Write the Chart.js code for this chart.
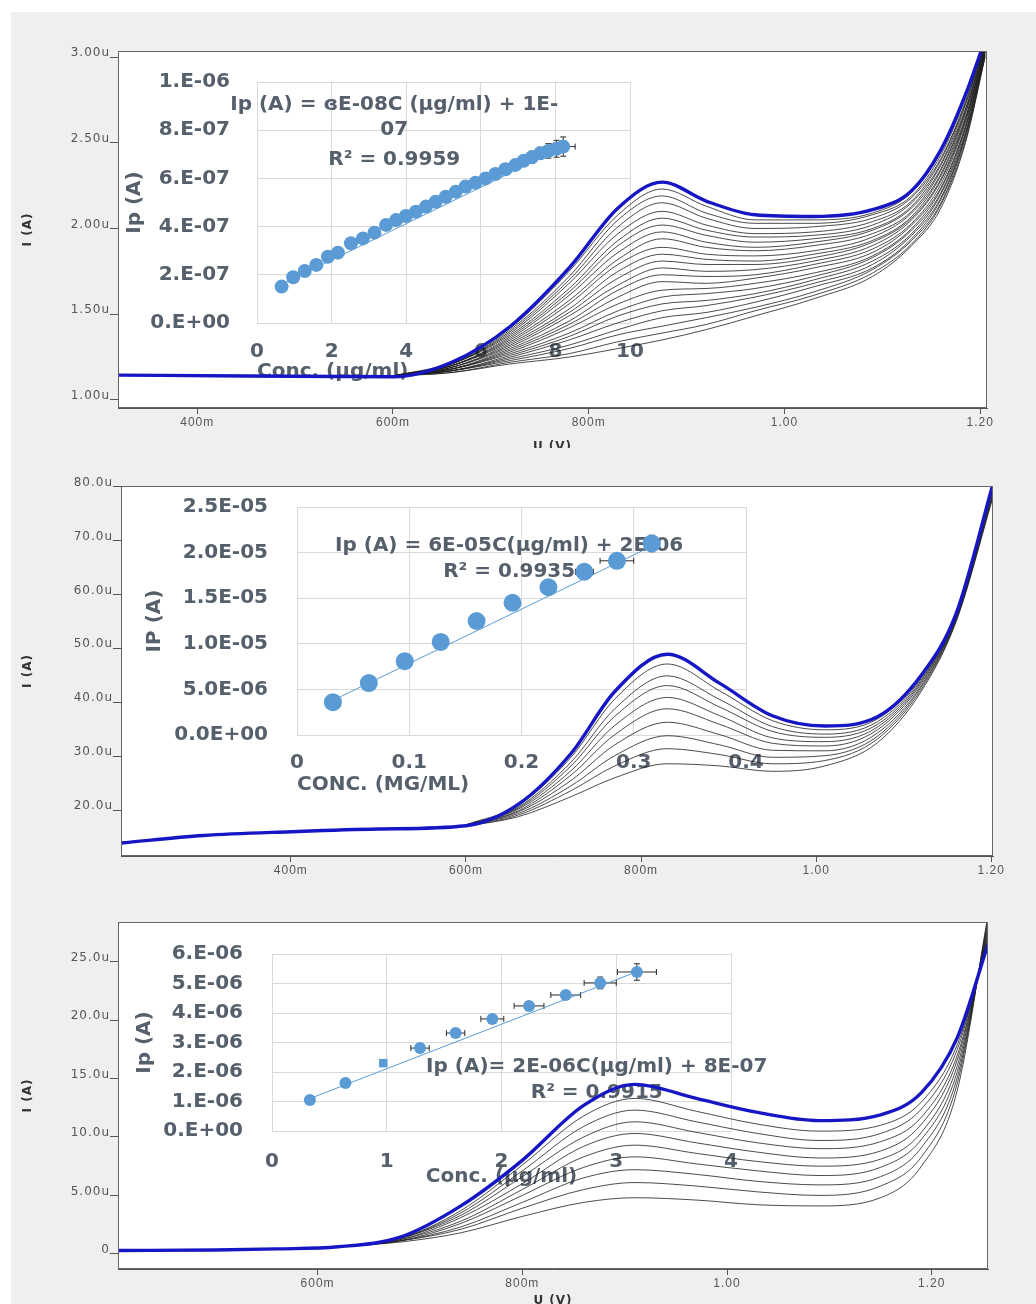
<!DOCTYPE html>
<html><head><meta charset="utf-8">
<script src="https://cdn.jsdelivr.net/npm/chart.js@4.4.1/dist/chart.umd.min.js"></script>
<style>
html,body{margin:0;padding:0;background:#fff;}
#page{position:relative;width:1036px;height:1304px;overflow:hidden;}
.panel{position:absolute;left:0;width:1036px;background:#efefef;overflow:hidden;}
.panel canvas{position:absolute;left:0;top:0;}
.plotbg{position:absolute;background:#fff;}
#strip{position:absolute;left:0;top:0;width:11px;height:1304px;background:#fff;z-index:5;}
</style></head><body>
<div id="page">
  <div class="panel" style="top:12px;height:436px"><div class="plotbg" id="bg1"></div><canvas id="ins1"></canvas><canvas id="main1"></canvas></div>
  <div class="panel" style="top:448px;height:442px"><div class="plotbg" id="bg2"></div><canvas id="ins2"></canvas><canvas id="main2"></canvas></div>
  <div class="panel" style="top:890px;height:414px"><div class="plotbg" id="bg3"></div><canvas id="ins3"></canvas><canvas id="main3"></canvas></div>
  <div id="strip"></div>
</div>
<script>
/* ═══ DATA: voltammograms (U in V, I in µA) ═══ */
// panel 1
const p1Volts=[0.60,0.66,0.72,0.78,0.83,0.875,0.92,0.97,1.03,1.09,1.13,1.16,1.185,1.205];
const p1Curves=[
  [1.14,1.16,1.21,1.25,1.30,1.35,1.41,1.49,1.59,1.72,1.90,2.12,2.50,3.00],
  [1.14,1.16,1.22,1.27,1.34,1.39,1.44,1.52,1.61,1.74,1.91,2.14,2.51,3.00],
  [1.14,1.17,1.23,1.30,1.38,1.43,1.48,1.54,1.63,1.76,1.93,2.15,2.53,3.01],
  [1.14,1.17,1.24,1.32,1.41,1.48,1.51,1.57,1.66,1.77,1.94,2.17,2.54,3.01],
  [1.14,1.17,1.25,1.35,1.45,1.52,1.55,1.60,1.68,1.79,1.96,2.18,2.55,3.02],
  [1.14,1.17,1.26,1.37,1.49,1.56,1.58,1.62,1.70,1.81,1.97,2.20,2.56,3.02],
  [1.14,1.18,1.27,1.39,1.52,1.60,1.62,1.65,1.72,1.83,1.99,2.21,2.58,3.03],
  [1.14,1.18,1.28,1.42,1.56,1.64,1.65,1.68,1.74,1.84,2.00,2.23,2.59,3.03],
  [1.14,1.18,1.29,1.44,1.60,1.69,1.68,1.71,1.77,1.86,2.02,2.24,2.60,3.04],
  [1.14,1.18,1.30,1.46,1.64,1.73,1.72,1.73,1.79,1.88,2.03,2.26,2.62,3.04],
  [1.14,1.19,1.31,1.49,1.67,1.77,1.75,1.76,1.81,1.90,2.05,2.28,2.63,3.05],
  [1.14,1.19,1.32,1.51,1.71,1.81,1.79,1.79,1.83,1.92,2.06,2.29,2.64,3.05],
  [1.14,1.19,1.33,1.53,1.75,1.85,1.82,1.81,1.85,1.93,2.07,2.31,2.65,3.05],
  [1.14,1.20,1.34,1.56,1.79,1.89,1.85,1.84,1.87,1.95,2.09,2.32,2.67,3.06],
  [1.14,1.20,1.35,1.58,1.82,1.94,1.89,1.87,1.90,1.97,2.10,2.34,2.68,3.06],
  [1.14,1.20,1.36,1.61,1.86,1.98,1.92,1.89,1.92,1.99,2.12,2.35,2.69,3.07],
  [1.14,1.20,1.37,1.63,1.90,2.02,1.96,1.92,1.94,2.00,2.13,2.37,2.70,3.07],
  [1.14,1.21,1.38,1.65,1.93,2.06,1.99,1.95,1.96,2.02,2.15,2.38,2.72,3.08],
  [1.14,1.21,1.39,1.68,1.97,2.10,2.02,1.97,1.98,2.04,2.16,2.40,2.73,3.08],
  [1.14,1.21,1.40,1.70,2.01,2.15,2.06,2.00,2.01,2.06,2.18,2.41,2.74,3.09],
  [1.14,1.21,1.41,1.72,2.05,2.19,2.09,2.03,2.03,2.08,2.19,2.43,2.76,3.09],
  [1.14,1.22,1.42,1.75,2.08,2.23,2.13,2.05,2.05,2.09,2.21,2.45,2.77,3.10]
];
const p1BlueVolts=[0.32,0.45,0.60,0.66,0.72,0.78,0.83,0.875,0.92,0.97,1.03,1.09,1.13,1.16,1.185,1.205];
const p1Blue=[1.145,1.14,1.135,1.22,1.43,1.77,2.12,2.27,2.16,2.08,2.07,2.11,2.22,2.46,2.78,3.10];
const p1XTicks=[0.4,0.6,0.8,1.0,1.2];
const p1YTicks=[1.0,1.5,2.0,2.5,3.0];

// panel 2
const p2Volts=[0.60,0.66,0.72,0.77,0.83,0.89,0.95,1.01,1.07,1.12,1.16,1.202];
const p2Curves=[
  [17.0,18.8,22.5,26.0,28.6,28.2,27.2,28.2,32.5,42.0,55.0,78.0],
  [17.0,19.1,23.6,28.2,31.4,30.3,28.6,29.2,33.2,42.4,55.2,78.3],
  [17.1,19.4,24.5,30.1,33.8,32.1,29.8,30.1,33.7,42.8,55.4,78.6],
  [17.1,19.7,25.5,32.1,36.3,34.0,31.1,31.0,34.3,43.1,55.6,78.9],
  [17.2,19.9,26.5,34.0,38.8,35.9,32.4,31.9,34.9,43.5,55.8,79.3],
  [17.2,20.2,27.3,35.7,40.9,37.5,33.4,32.7,35.4,43.8,55.9,79.5],
  [17.2,20.4,28.2,37.4,43.1,39.1,34.6,33.5,35.9,44.1,56.1,79.8],
  [17.2,20.6,28.9,38.8,44.9,40.5,35.5,34.1,36.4,44.4,56.2,80.0],
  [17.3,20.9,29.8,40.6,47.1,42.1,36.6,34.9,36.9,44.7,56.4,80.3]
];
const p2BlueVolts=[0.206,0.30,0.40,0.50,0.60,0.66,0.72,0.77,0.83,0.89,0.95,1.01,1.07,1.12,1.16,1.202];
const p2Blue=[13.9,15.3,16.0,16.5,17.1,21.1,30.5,42.0,48.9,43.5,37.5,35.6,37.3,45.0,56.5,80.5];
const p2XTicks=[0.4,0.6,0.8,1.0,1.2];
const p2YTicks=[20,30,40,50,60,70,80];

// panel 3
const p3Volts=[0.62,0.68,0.74,0.80,0.86,0.91,0.97,1.03,1.09,1.15,1.19,1.225,1.255];
const p3Curves=[
  [0.6,1.0,1.8,3.2,4.4,4.8,4.6,4.2,4.1,4.8,7.5,14.0,29.0],
  [0.6,1.1,2.1,3.9,5.5,6.1,5.8,5.3,5.0,5.8,8.3,14.6,28.7],
  [0.6,1.1,2.3,4.4,6.5,7.2,6.8,6.2,5.9,6.6,9.1,15.1,28.4],
  [0.6,1.1,2.6,5.0,7.4,8.3,7.7,7.1,6.7,7.4,9.8,15.6,28.1],
  [0.6,1.2,2.8,5.5,8.3,9.3,8.6,7.9,7.5,8.1,10.4,16.1,27.8],
  [0.6,1.2,3.1,6.0,9.2,10.3,9.5,8.7,8.2,8.8,11.1,16.6,27.6],
  [0.6,1.3,3.3,6.6,10.0,11.3,10.4,9.5,9.0,9.6,11.7,17.0,27.3],
  [0.6,1.3,3.5,7.1,10.9,12.3,11.3,10.3,9.7,10.3,12.4,17.5,27.1],
  [0.6,1.3,3.7,7.6,11.8,13.3,12.2,11.1,10.5,11.0,13.0,17.9,26.8]
];
const p3BlueVolts=[0.405,0.50,0.56,0.62,0.68,0.74,0.80,0.86,0.91,0.97,1.03,1.09,1.15,1.19,1.225,1.255];
const p3Blue=[0.28,0.33,0.42,0.6,1.4,4.1,8.0,12.7,14.5,13.3,12.1,11.4,11.9,13.8,18.5,26.5];
const p3XTicks=[0.6,0.8,1.0,1.2];
const p3YTicks=[0,5,10,15,20,25];

/* ═══ DATA: calibration insets (C, Ip in A) ═══ */
const in1Conc=[0.66,0.97,1.28,1.59,1.90,2.17,2.52,2.84,3.15,3.46,3.73,3.99,4.26,4.53,4.79,5.06,5.33,5.59,5.86,6.13,6.39,6.66,6.93,7.15,7.37,7.59,7.81,8.03,8.21];
const in1Ip=[1.51e-7,1.90e-7,2.16e-7,2.41e-7,2.75e-7,2.92e-7,3.31e-7,3.51e-7,3.75e-7,4.07e-7,4.27e-7,4.44e-7,4.62e-7,4.83e-7,5.03e-7,5.24e-7,5.45e-7,5.66e-7,5.82e-7,6.00e-7,6.18e-7,6.38e-7,6.56e-7,6.73e-7,6.88e-7,7.04e-7,7.14e-7,7.23e-7,7.32e-7];
const in1XErr=[0,0,0,0,0,0,0,0,0,0,0,0,0,0,0,0,0,0,0,0,0.1,0.1,0.1,0.12,0.12,0.15,0.15,0.2,0.32];
const in1YErr=[0,0,0,0,0,0,0,0,0,0,0,1e-8,1e-8,1.2e-8,1.2e-8,1.5e-8,1.5e-8,1.5e-8,1.8e-8,1.8e-8,2e-8,2e-8,2.2e-8,2.2e-8,2.5e-8,2.5e-8,3e-8,3.5e-8,4e-8];
const in1TrendX=[0.66,8.21], in1TrendY=[1.6e-7,7.3e-7];
const in1XTicks=[0,2,4,6,8,10];
const in1YTicks=[0,2e-7,4e-7,6e-7,8e-7,1e-6];

const in2Conc=[0.032,0.064,0.096,0.128,0.160,0.192,0.224,0.256,0.285,0.316];
const in2Ip=[3.6e-6,5.7e-6,8.1e-6,1.02e-5,1.25e-5,1.45e-5,1.62e-5,1.79e-5,1.91e-5,2.10e-5];
const in2XErr=[0,0,0,0,0,0,0,0.008,0.015,0];
const in2YErr=[0,0,0,0,0,0,0,0,0,9e-7];
const in2TrendX=[0.032,0.316], in2TrendY=[3.8e-6,2.07e-5];
const in2XTicks=[0,0.1,0.2,0.3,0.4];
const in2YTicks=[0,5e-6,1e-5,1.5e-5,2e-5,2.5e-5];

const in3Conc=[0.33,0.64,0.97,1.29,1.60,1.92,2.24,2.56,2.86,3.18];
const in3Ip=[1.05e-6,1.63e-6,2.30e-6,2.81e-6,3.32e-6,3.80e-6,4.24e-6,4.61e-6,5.02e-6,5.39e-6];
const in3XErr=[0,0,0,0.08,0.08,0.1,0.13,0.13,0.14,0.17];
const in3YErr=[0,0,0,0,0,0,0,0,2e-7,2.8e-7];
const in3Marker=['circle','circle','rect','circle','circle','circle','circle','circle','circle','circle'];
const in3TrendX=[0.33,3.18], in3TrendY=[1.1e-6,5.4e-6];
const in3XTicks=[0,1,2,3,4];
const in3YTicks=[0,1e-6,2e-6,3e-6,4e-6,5e-6,6e-6];

/* ═══ STYLE ═══ */
const BLUE='#1616c4', LINE='#1e1e1e', PT='#5b9bd5', INS_COL='#56606c', CLEAR='rgba(0,0,0,0)';
const xAxFont={family:'"Liberation Sans", Arial, sans-serif', size:12};
const yAxFont={family:'"DejaVu Sans", sans-serif', size:12};
const insFont={family:'"DejaVu Sans", sans-serif', size:20, weight:'bold'};

function fmtSci(v,d){
  if(Math.abs(v)<1e-15) v=0;
  const [m,e]=v.toExponential(d).split('e');
  return (d===0?m+'.':m)+'E'+(+e<0?'-':'+')+String(Math.abs(+e)).padStart(2,'0');
}
function fmtVolt(v){ return v<0.999 ? Math.round(v*1000)+'m' : v.toFixed(2); }

/* ═══ MAIN VOLTAMMOGRAM ═══ */
function plotBox(bg){
  return {
    id:'plotBox',
    afterLayout(c){
      const a=c.chartArea;
      Object.assign(bg.style,{left:a.left+'px',top:a.top+'px',width:(a.right-a.left)+'px',height:(a.bottom-a.top)+'px'});
    },
    beforeDraw(c){ c.ctx.letterSpacing='1px'; },
    afterDraw(c){
      const a=c.chartArea, ctx=c.ctx;
      ctx.save(); ctx.strokeStyle='#666'; ctx.lineWidth=1;
      ctx.strokeRect(Math.round(a.left)+0.5,Math.round(a.top)+0.5,Math.round(a.right-a.left)-1,Math.round(a.bottom-a.top)-1);
      ctx.restore();
    }
  };
}

function mainChart(id,bgId,o){
  const cv=document.getElementById(id);
  cv.width=1036; cv.height=o.h;
  const a=o.area;
  const ds=o.curves.map(row=>({
    data:row.map((y,i)=>({x:o.volts[i],y})),
    borderColor:LINE, borderWidth:0.8, pointRadius:0, cubicInterpolationMode:'monotone', order:1
  }));
  ds.push({
    data:o.blue.map((y,i)=>({x:o.blueVolts[i],y})),
    borderColor:BLUE, borderWidth:3.4, pointRadius:0, cubicInterpolationMode:'monotone', order:0
  });
  return new Chart(cv,{
    type:'line',
    data:{datasets:ds},
    options:{
      responsive:false, animation:false, events:[],
      layout:{padding:{left:0,top:a.t,right:1036-a.r,bottom:0}},
      plugins:{legend:{display:false},tooltip:{enabled:false}},
      scales:{
        x:{
          type:'linear', min:o.xMin, max:o.xMax,
          afterBuildTicks:s=>{s.ticks=o.xTicks.map(v=>({value:v}));},
          afterFit:s=>{s.height=o.h-a.b;},
          grid:{drawOnChartArea:false,tickLength:6,color:'#555'},
          border:{color:'#555'},
          ticks:{padding:1,color:'#555',font:xAxFont,maxRotation:0,autoSkip:false,callback:fmtVolt},
          title:{display:o.xTitle,text:'U (V)',color:'#333',font:{family:'"DejaVu Sans", sans-serif',size:12,weight:'bold'},padding:{top:0,bottom:o.xtPad}}
        },
        y:{
          min:o.yMin, max:o.yMax,
          afterBuildTicks:s=>{s.ticks=o.yTicks.map(v=>({value:v}));},
          afterFit:s=>{s.width=a.l;},
          grid:{drawOnChartArea:false,tickLength:8,color:'#555'},
          border:{color:'#555'},
          ticks:{padding:0,color:'#555',font:yAxFont,labelOffset:-4,autoSkip:false,callback:o.yFmt},
          title:{display:true,text:'I (A)',color:'#333',font:{family:'"DejaVu Sans", sans-serif',size:12,weight:'bold'},padding:{top:21,bottom:0}}
        }
      }
    },
    plugins:[plotBox(document.getElementById(bgId))]
  });
}

/* ═══ INSET CALIBRATION ═══ */
function insetMarks(o){
  return {
    id:'insetMarks',
    beforeDatasetsDraw(c){
      const ctx=c.ctx, xs=c.scales.x, ys=c.scales.y;
      ctx.save();
      ctx.font='bold 20px "DejaVu Sans", sans-serif';
      ctx.fillStyle=INS_COL; ctx.textAlign='center'; ctx.textBaseline='middle';
      o.notes.forEach(n=>ctx.fillText(n.t,xs.getPixelForValue(n.x),ys.getPixelForValue(n.y)));
      ctx.strokeStyle='#2a2a2a'; ctx.lineWidth=1;
      o.conc.forEach((cx,i)=>{
        const px=xs.getPixelForValue(cx), py=ys.getPixelForValue(o.ip[i]);
        const ex=o.errX[i], ey=o.errY[i];
        ctx.beginPath();
        if(ex){
          const x0=xs.getPixelForValue(cx-ex), x1=xs.getPixelForValue(cx+ex);
          ctx.moveTo(x0,py); ctx.lineTo(x1,py);
          ctx.moveTo(x0,py-3); ctx.lineTo(x0,py+3);
          ctx.moveTo(x1,py-3); ctx.lineTo(x1,py+3);
        }
        if(ey){
          const y0=ys.getPixelForValue(o.ip[i]-ey), y1=ys.getPixelForValue(o.ip[i]+ey);
          ctx.moveTo(px,y0); ctx.lineTo(px,y1);
          ctx.moveTo(px-3,y0); ctx.lineTo(px+3,y0);
          ctx.moveTo(px-3,y1); ctx.lineTo(px+3,y1);
        }
        ctx.stroke();
      });
      ctx.restore();
    }
  };
}

function insetChart(id,o){
  const cv=document.getElementById(id);
  cv.width=o.w; cv.height=o.h;
  cv.style.left=o.left+'px'; cv.style.top=o.top+'px';
  const a=o.area;
  return new Chart(cv,{
    type:'scatter',
    data:{datasets:[
      {data:o.conc.map((x,i)=>({x,y:o.ip[i]})),pointRadius:o.r,pointBackgroundColor:PT,pointBorderWidth:0,pointStyle:o.marker||'circle',showLine:false,order:0},
      {data:o.trendX.map((x,i)=>({x,y:o.trendY[i]})),showLine:true,borderColor:PT,borderWidth:1,pointRadius:0,order:1}
    ]},
    options:{
      responsive:false, animation:false, events:[],
      layout:{padding:{left:0,top:a.t,right:o.w-a.r,bottom:0}},
      plugins:{legend:{display:false},tooltip:{enabled:false}},
      scales:{
        x:{
          type:'linear', min:o.xTicks[0], max:o.xTicks[o.xTicks.length-1],
          afterBuildTicks:s=>{s.ticks=o.xTicks.map(v=>({value:v}));},
          afterFit:s=>{s.height=o.h-a.b;},
          grid:{color:'#d9d9d9',drawTicks:true,tickLength:o.xPad,tickColor:CLEAR},
          border:{color:'#d9d9d9'},
          ticks:{padding:0,color:INS_COL,font:insFont,maxRotation:0,autoSkip:false},
          title:{display:true,text:o.xTitle,align:o.xAlign,color:INS_COL,font:insFont,padding:{top:0,bottom:o.xtPad}}
        },
        y:{
          min:o.yTicks[0], max:o.yTicks[o.yTicks.length-1],
          afterBuildTicks:s=>{s.ticks=o.yTicks.map(v=>({value:v}));},
          afterFit:s=>{s.width=a.l;},
          grid:{color:'#d9d9d9',drawTicks:true,tickLength:o.yPad,tickColor:CLEAR},
          border:{color:'#d9d9d9'},
          ticks:{padding:0,color:INS_COL,font:insFont,autoSkip:false,callback:v=>fmtSci(v,o.dig)},
          title:{display:true,text:o.yTitle,color:INS_COL,font:insFont,padding:{top:3,bottom:0}}
        }
      }
    },
    plugins:[insetMarks(o)]
  });
}

/* ═══ RENDER ═══ */
insetChart('ins1',{
  left:120, top:50, w:560, h:330, area:{l:137,t:20,r:510,b:261},
  conc:in1Conc, ip:in1Ip, errX:in1XErr, errY:in1YErr, trendX:in1TrendX, trendY:in1TrendY,
  xTicks:in1XTicks, yTicks:in1YTicks, dig:0, r:7, xPad:17, yPad:27, xtPad:8,
  xTitle:'Conc. (µg/ml)', xAlign:'start', yTitle:'Ip (A)',
  notes:[{x:3.68,y:9.05e-7,t:'Ip (A) = ɞE-08C (µg/ml) + 1E-'},{x:3.68,y:8.0e-7,t:'07'},{x:3.68,y:6.76e-7,t:'R² = 0.9959'}]
});
mainChart('main1','bg1',{
  h:450, area:{l:118,t:39,r:987,b:396},
  volts:p1Volts, curves:p1Curves, blueVolts:p1BlueVolts, blue:p1Blue,
  xMin:0.319, xMax:1.207, xTicks:p1XTicks, yMin:0.953, yMax:3.035, yTicks:p1YTicks,
  yFmt:v=>v.toFixed(2)+'u', xTitle:true, xtPad:8
});

insetChart('ins2',{
  left:140, top:42, w:640, h:320, area:{l:157,t:17,r:606,b:245},
  conc:in2Conc, ip:in2Ip, errX:in2XErr, errY:in2YErr, trendX:in2TrendX, trendY:in2TrendY,
  xTicks:in2XTicks, yTicks:in2YTicks, dig:1, r:9, xPad:16, yPad:29, xtPad:13,
  xTitle:'CONC. (MG/ML)', xAlign:'start', yTitle:'IP (A)',
  notes:[{x:0.189,y:2.08e-5,t:'Ip (A) = 6E-05C(µg/ml) + 2E-06'},{x:0.189,y:1.79e-5,t:'R² = 0.9935'}]
});
mainChart('main2','bg2',{
  h:442, area:{l:121,t:38,r:993,b:408},
  volts:p2Volts, curves:p2Curves, blueVolts:p2BlueVolts, blue:p2Blue,
  xMin:0.206, xMax:1.202, xTicks:p2XTicks, yMin:11.5, yMax:80.1, yTicks:p2YTicks,
  yFmt:v=>v.toFixed(1)+'u', xTitle:false, xtPad:0
});

insetChart('ins3',{
  left:130, top:45, w:640, h:260, area:{l:142,t:19,r:601,b:196},
  conc:in3Conc, ip:in3Ip, errX:in3XErr, errY:in3YErr, trendX:in3TrendX, trendY:in3TrendY,
  xTicks:in3XTicks, yTicks:in3YTicks, dig:0, r:6, marker:in3Marker, xPad:19, yPad:29, xtPad:6,
  xTitle:'Conc. (µg/ml)', xAlign:'center', yTitle:'Ip (A)',
  notes:[{x:2.83,y:2.17e-6,t:'Ip (A)= 2E-06C(µg/ml) + 8E-07'},{x:2.83,y:1.29e-6,t:'R² = 0.9915'}]
});
mainChart('main3','bg3',{
  h:430, area:{l:118,t:32,r:988,b:379},
  volts:p3Volts, curves:p3Curves, blueVolts:p3BlueVolts, blue:p3Blue,
  xMin:0.405, xMax:1.255, xTicks:p3XTicks, yMin:-1.3, yMax:28.4, yTicks:p3YTicks,
  yFmt:v=>v===0?'0':(v<10?v.toFixed(2)+'u':v.toFixed(1)+'u'), xTitle:true, xtPad:12
});
</script>
</body></html>
